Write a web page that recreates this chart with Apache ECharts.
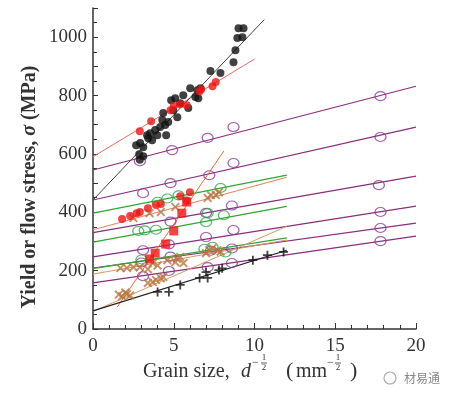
<!DOCTYPE html>
<html>
<head>
<meta charset="utf-8">
<script src="https://cdn.jsdelivr.net/npm/echarts@6/dist/echarts.min.js"></script>
<style>
html,body{margin:0;padding:0;background:#fff}
#chart{width:453px;height:398px}
</style>
</head>
<body>
<div id="chart"></div>
<script>
// Hall-Petch type plot: yield / flow stress vs d^-1/2

// markers [d^-1/2, MPa]
var blackDots = [[2.67,630],[2.92,637],[3.11,623],[2.86,599],[3.11,592],[3.35,664],[3.54,671],[3.42,654],
    [3.66,647],[3.85,682],[3.98,664],[4.16,692],[4.29,716],[4.47,699],[4.53,664],[4.35,740],[4.66,709],
    [4.84,784],[5.09,791],[4.97,750],[5.22,726],[5.40,774],[5.59,801],[5.90,757],[6.02,825],[6.34,795],
    [6.52,791],[6.46,818],[6.65,825],[7.27,884],[7.89,877],[8.70,914],[8.82,955],[8.94,997],[9.25,1000],
    [9.01,1031],[9.32,1031],[2.9,580]];
var redDotsUpper = [[2.9,678],[3.6,712],[4.8,750],[5.0,764],[5.4,770],[5.8,767],[6.6,815],[6.7,822],[7.4,832],[7.6,846]];
var redDotsLower = [[1.8,377],[2.3,387],[2.7,397],[2.9,401],[3.4,414],[3.9,425],[4.2,428],[5.4,455],[5.8,440],[6.0,469]];
var redSquares = [[3.5,240],[3.85,260],[4.5,291],[5.0,336],[5.5,397],[5.8,435]];
var purpleCircles = [
    [2.9,575],[4.9,613],[7.1,655],[8.7,692],[17.8,798],
    [3.1,465],[4.8,500],[7.2,527],[8.7,569],[17.8,658],
    [4.8,368],[7.0,398],[8.6,423],[17.7,493],
    [3.1,270],[4.7,290],[7.0,315],[8.7,339],[17.8,401],
    [3.0,228],[4.8,248],[7.3,268],[8.6,276],[17.8,346],
    [3.1,181],[4.7,199],[7.1,212],[8.6,226],[17.8,301]];
var greenCircles = [[4.0,436],[4.6,447],[5.3,458],[7.9,483],
    [2.8,336],[3.2,338],[3.9,340],[7.0,366],[7.1,397],[8.1,390],
    [3.0,238],[6.9,275],[7.4,282],[8.2,262]];
var brownCrosses = [[2.5,380],[3.5,397],[4.2,401],[5.1,418],[7.1,449],[7.3,459],[7.6,459],[7.8,469],
    [1.7,209],[2.1,209],[2.5,212],[2.9,212],[3.4,205],[3.7,226],[4.0,218],[4.6,236],[5.1,229],[5.4,247],
    [5.6,226],[5.2,240],[7.0,260],[7.2,270],[7.4,277],[7.7,270],[7.9,265],
    [3.4,158],[3.7,161],[4.2,174],[4.35,178],[3.9,168],
    [1.6,118],[1.8,112],[2.0,125],[2.1,120],[2.3,115]];
var blackPluses = [[4.0,127],[4.7,127],[5.4,151],[6.6,175],[7.0,195],[7.1,175],[7.8,202],[8.0,208],
    [9.9,236],[10.8,253],[11.8,264]];

// fitted lines, end points
var blackFit = [[0,442],[10.6,1060]];
var redFitUpper = [[0,590],[10,925]];
var redFitLower = [[0,340],[12,520]];
var orangeFit = [[1.5,75],[8.1,610]];
var purpleFits = [
    [[0,545],[20,832]],
    [[0,442],[20,692]],
    [[0,330],[20,524]],
    [[0,247],[20,421]],
    [[0,209],[20,363]],
    [[0,158],[20,318]]];
var greenFits = [
    [[0,397],[12,527]],
    [[0,298],[12,420]],
    [[0,207],[12,312]]];
var brownFits = [
    [[0,188],[12,305]],
    [[0,60],[12,352]]];
var plusFit = [[0,62],[12,270]];

var xTicks = [0, 5, 10, 15, 20];

var SERIF = '"Liberation Serif", "DejaVu Serif", serif';
var CROSS = 'path://M0,1.5L1.5,0L5,3.5L8.5,0L10,1.5L6.5,5L10,8.5L8.5,10L5,6.5L1.5,10L0,8.5L3.5,5Z';
var PLUS = 'path://M4,0H6V4H10V6H6V10H4V6H0V4H4Z';

function fitLine(pts, color, w) {
    return { type: 'line', data: pts, symbol: 'none', silent: true, z: 2,
        lineStyle: { color: color, width: w || 1 } };
}
function marks(data, symbol, size, color, hollow) {
    return { type: 'scatter', data: data, symbol: symbol, symbolSize: size, z: 3,
        itemStyle: hollow ? { color: 'rgba(255,255,255,0)', borderColor: color, borderWidth: 1.2 }
                          : { color: color } };
}

var series = [];
purpleFits.forEach(function (p) { series.push(fitLine(p, '#8c2d7c', 1.2)); });
greenFits.forEach(function (p) { series.push(fitLine(p, '#2fa82f', 1.2)); });
brownFits.forEach(function (p) { series.push(fitLine(p, '#d69a62', 1)); });
series.push(fitLine(redFitLower, '#e58060', 1));
series.push(fitLine(redFitUpper, '#ec6a60', 1));
series.push(fitLine(orangeFit, '#f06a30', 1));
series.push(fitLine(blackFit, '#444', 1));
series.push(fitLine(plusFit, '#222', 1.2));
series.push(marks(purpleCircles, 'circle', [11, 9], '#8a3d98', true));
series.push(marks(greenCircles, 'circle', [11, 9], '#2fa84f', true));
series.push(marks(brownCrosses, CROSS, 9, '#b8763e'));
series.push(marks(blackPluses, PLUS, 9, '#111'));
series.push(marks(blackDots, 'circle', 8, '#111'));
series.push(marks(redDotsUpper, 'circle', 8, '#f01414'));
series.push(marks(redDotsLower, 'circle', 8, '#f01414'));
series.push(marks(redSquares, 'rect', 9, '#f01414'));

var chart = echarts.init(document.getElementById('chart'));
chart.setOption({
    animation: false,
    backgroundColor: '#fff',
    grid: { left: 93, right: 37, top: 8, bottom: 69 },
    xAxis: {
        type: 'value', min: 0, max: 20, interval: 5,
        axisLine: { lineStyle: { color: '#333', width: 1.5 } },
        axisTick: { inside: true, length: 6, lineStyle: { color: '#333' } },
        minorTick: { show: true, splitNumber: 5, length: 4, lineStyle: { color: '#333' } },
        splitLine: { show: false },
        axisLabel: { fontFamily: SERIF, fontSize: 19, color: '#333', margin: 8,
            formatter: function (v) { return xTicks.indexOf(v) >= 0 ? v : ''; } }
    },
    yAxis: {
        type: 'value', min: 0, max: 1100, interval: 100,
        axisLine: { lineStyle: { color: '#333', width: 1.5 } },
        axisTick: { inside: true, length: 5, lineStyle: { color: '#333' } },
        minorTick: { show: true, splitNumber: 2, length: 4, lineStyle: { color: '#333' } },
        splitLine: { show: false },
        axisLabel: { fontFamily: SERIF, fontSize: 19, color: '#333', margin: 6,
            formatter: function (v) { return (v % 200 === 0 && v <= 1000) ? v : ''; } }
    },
    graphic: [
        { type: 'text', x: 30, y: 187, rotation: Math.PI / 2,
          style: { text: '{b|Yield or flow stress, }{s|σ}{b| (MPa)}', align: 'center', verticalAlign: 'middle',
              fill: '#333', font: 'bold 20px ' + SERIF,
              rich: { b: { fontFamily: SERIF, fontSize: 20, fontWeight: 'bold', fill: '#333' },
                      s: { fontFamily: SERIF, fontSize: 20, fontStyle: 'italic', fontWeight: 'bold', fill: '#333' } } } },
        // x axis name, typeset piece by piece
        { type: 'text', x: 143, y: 372, style: { text: 'Grain size,', font: '20px ' + SERIF, fill: '#333', verticalAlign: 'middle' } },
        { type: 'text', x: 241, y: 372, style: { text: 'd', font: 'italic 20px ' + SERIF, fill: '#333', verticalAlign: 'middle' } },
        { type: 'text', x: 252, y: 363, style: { text: '−', font: '12px ' + SERIF, fill: '#333', verticalAlign: 'middle' } },
        { type: 'text', x: 264, y: 358, style: { text: '1', font: '9px ' + SERIF, fill: '#333', align: 'center', verticalAlign: 'middle' } },
        { type: 'line', shape: { x1: 261, y1: 363, x2: 267, y2: 363 }, style: { stroke: '#333', lineWidth: 0.8 } },
        { type: 'text', x: 264, y: 368, style: { text: '2', font: '9px ' + SERIF, fill: '#333', align: 'center', verticalAlign: 'middle' } },
        { type: 'text', x: 286, y: 371, style: { text: '(', font: '22px ' + SERIF, fill: '#333', verticalAlign: 'middle' } },
        { type: 'text', x: 296, y: 372, style: { text: 'mm', font: '20px ' + SERIF, fill: '#333', verticalAlign: 'middle' } },
        { type: 'text', x: 327, y: 363, style: { text: '−', font: '12px ' + SERIF, fill: '#333', verticalAlign: 'middle' } },
        { type: 'text', x: 338, y: 358, style: { text: '1', font: '9px ' + SERIF, fill: '#333', align: 'center', verticalAlign: 'middle' } },
        { type: 'line', shape: { x1: 335, y1: 363, x2: 341, y2: 363 }, style: { stroke: '#333', lineWidth: 0.8 } },
        { type: 'text', x: 338, y: 368, style: { text: '2', font: '9px ' + SERIF, fill: '#333', align: 'center', verticalAlign: 'middle' } },
        { type: 'text', x: 350, y: 371, style: { text: ')', font: '22px ' + SERIF, fill: '#333', verticalAlign: 'middle' } },
        // watermark
        { type: 'circle', shape: { cx: 390, cy: 378, r: 6 }, style: { fill: 'none', stroke: '#aaa', lineWidth: 1.2 } },
        { type: 'text', x: 404, y: 378, style: { text: '材易通', font: '12px "Noto Sans CJK SC"', fill: '#888', verticalAlign: 'middle' } }
    ],
    series: series
});
</script>
</body>
</html>
